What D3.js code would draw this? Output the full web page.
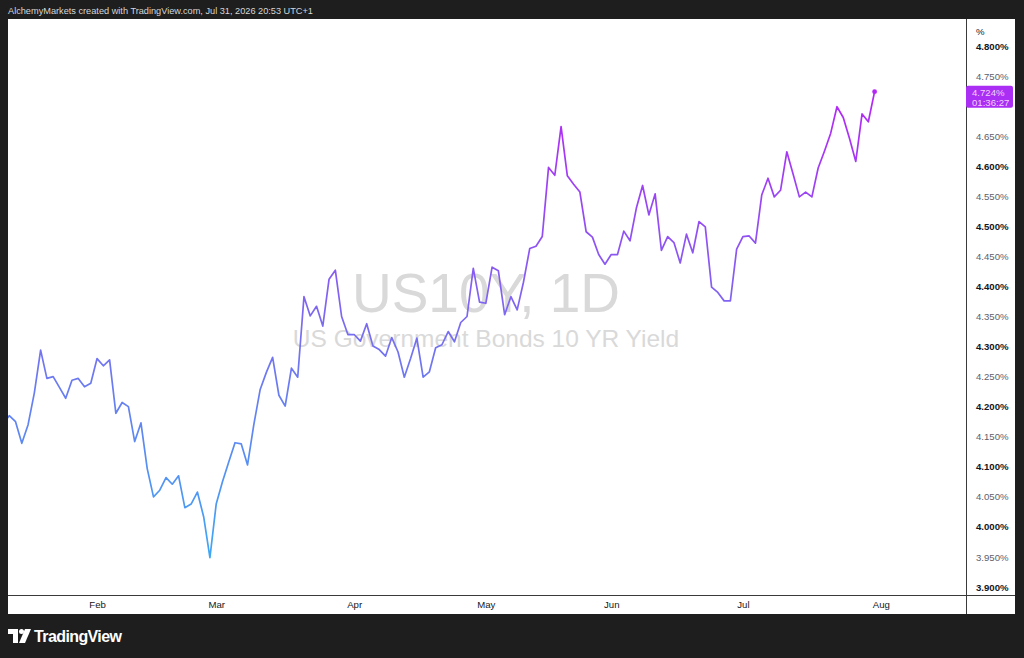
<!DOCTYPE html>
<html>
<head>
<meta charset="utf-8">
<script src="https://cdn.jsdelivr.net/npm/d3@7"></script>
<style>
  html, body { margin: 0; padding: 0; background: #1e1e1e; }
  svg { display: block; }
</style>
</head>
<body>
<svg id="chart" width="1024" height="658"></svg>
<script>
// US10Y daily closes, Jan 9 – Jul 31 2026 (bar index 0..139)
const values = [
  4.171, 4.185, 4.175, 4.139, 4.170, 4.223, 4.294, 4.247, 4.250, 4.232,
  4.214, 4.244, 4.247, 4.233, 4.239, 4.280, 4.268, 4.278, 4.189, 4.207,
  4.200, 4.142, 4.173, 4.097, 4.050, 4.061, 4.082, 4.071, 4.085, 4.032,
  4.038, 4.058, 4.017, 3.949, 4.038, 4.075, 4.108, 4.140, 4.138, 4.103,
  4.170, 4.228, 4.257, 4.282, 4.219, 4.201, 4.264, 4.249, 4.383, 4.351,
  4.367, 4.334, 4.412, 4.427, 4.350, 4.320, 4.320, 4.309, 4.338, 4.301,
  4.295, 4.284, 4.315, 4.291, 4.249, 4.280, 4.314, 4.249, 4.258, 4.298,
  4.303, 4.325, 4.308, 4.340, 4.350, 4.430, 4.374, 4.372, 4.432, 4.426,
  4.353, 4.383, 4.361, 4.407, 4.463, 4.467, 4.483, 4.598, 4.585, 4.666,
  4.584, 4.570, 4.557, 4.491, 4.482, 4.453, 4.437, 4.453, 4.453, 4.492,
  4.476, 4.530, 4.568, 4.519, 4.554, 4.460, 4.483, 4.473, 4.439, 4.487,
  4.456, 4.508, 4.499, 4.399, 4.390, 4.376, 4.376, 4.462, 4.483, 4.484,
  4.472, 4.552, 4.580, 4.549, 4.560, 4.624, 4.587, 4.549, 4.557, 4.549,
  4.597, 4.625, 4.655, 4.699, 4.681, 4.646, 4.608, 4.687, 4.674, 4.724
];
const monthLabels = ["Feb", "Mar", "Apr", "May", "Jun", "Jul", "Aug"];
const monthIdx = [15, 34, 56, 77, 97, 118, 140];
const priceTicks = [3.90, 3.95, 4.00, 4.05, 4.10, 4.15, 4.20, 4.25, 4.30, 4.35,
                    4.40, 4.45, 4.50, 4.55, 4.60, 4.65, 4.70, 4.75, 4.80];
const lastLabel = "4.724%";
const countdown = "01:36:27";
const headerText = "AlchemyMarkets created with TradingView.com, Jul 31, 2026 20:53 UTC+1";
const symbolText = "US10Y, 1D";
const descText = "US Government Bonds 10 YR Yield";

const svg = d3.select("#chart");
const W = 1024, H = 658;
const panel = { left: 8, top: 19, right: 1015, bottom: 614 };
const plot = { left: 8, top: 19, right: 966, bottom: 595 };

const x = d3.scaleLinear().domain([0, 139]).range([3.0, 874.6]);
const y = d3.scaleLinear().domain([3.9, 4.8]).range([587, 46]);

// background
svg.append("rect").attr("width", W).attr("height", H).attr("fill", "#1e1e1e");
svg.append("rect")
  .attr("x", panel.left).attr("y", panel.top)
  .attr("width", panel.right - panel.left).attr("height", panel.bottom - panel.top)
  .attr("fill", "#ffffff");

// header
svg.append("text").attr("x", 8).attr("y", 13.5)
  .attr("font-family", "Liberation Sans, Arial, sans-serif")
  .attr("font-size", 9.2).attr("fill", "#d6d6d6").text(headerText);

// watermark
const cx = (plot.left + plot.right) / 2 - 1;
svg.append("text").attr("x", cx).attr("y", 312).attr("text-anchor", "middle")
  .attr("font-family", "Liberation Sans, Arial, sans-serif")
  .attr("font-size", 55).attr("fill", "#d9d9d9").text(symbolText);
svg.append("text").attr("x", cx).attr("y", 347).attr("text-anchor", "middle")
  .attr("font-family", "Liberation Sans, Arial, sans-serif")
  .attr("font-size", 24.5).attr("fill", "#d9d9d9").text(descText);

// gradient by value
const defs = svg.append("defs");
const grad = defs.append("linearGradient").attr("id", "lineGrad")
  .attr("gradientUnits", "userSpaceOnUse")
  .attr("x1", 0).attr("x2", 0).attr("y1", y(3.95)).attr("y2", y(4.72));
grad.append("stop").attr("offset", "0%").attr("stop-color", "#3fa7f4");
grad.append("stop").attr("offset", "45%").attr("stop-color", "#7472f0");
grad.append("stop").attr("offset", "100%").attr("stop-color", "#b526f6");

defs.append("clipPath").attr("id", "plotClip").append("rect")
  .attr("x", plot.left).attr("y", plot.top)
  .attr("width", plot.right - plot.left).attr("height", plot.bottom - plot.top);

const line = d3.line().x((d, i) => x(i)).y(d => y(d));
svg.append("path").datum(values)
  .attr("clip-path", "url(#plotClip)")
  .attr("d", line)
  .attr("fill", "none")
  .attr("stroke", "url(#lineGrad)")
  .attr("stroke-width", 1.7)
  .attr("stroke-linejoin", "round");

const li = values.length - 1;
const ly = y(values[li]);
svg.append("circle").attr("cx", x(li)).attr("cy", ly).attr("r", 2.4)
  .attr("fill", "#b526f6");

// frame lines
svg.append("line").attr("x1", plot.right + 0.5).attr("x2", plot.right + 0.5)
  .attr("y1", panel.top).attr("y2", panel.bottom)
  .attr("stroke", "#3a3a3a").attr("stroke-width", 1);
svg.append("line").attr("x1", panel.left).attr("x2", panel.right)
  .attr("y1", plot.bottom + 0.5).attr("y2", plot.bottom + 0.5)
  .attr("stroke", "#3a3a3a").attr("stroke-width", 1);

// price axis (labels hidden where the last-value badge covers them)
const boxTop = ly - 6, boxBottom = ly + 16;
const shownTicks = priceTicks.filter(t => y(t) + 4 < boxTop || y(t) - 4 > boxBottom);
const yAxis = d3.axisRight(y).tickValues(shownTicks).tickSize(0).tickPadding(0)
  .tickFormat(d => d.toFixed(3) + "%");
const gy = svg.append("g").attr("transform", `translate(${plot.right + 10},0)`).call(yAxis);
gy.select(".domain").remove();
gy.selectAll("text")
  .attr("font-family", "Liberation Sans, Arial, sans-serif")
  .attr("font-size", 9.6)
  .attr("fill", d => (Math.round(d * 100) % 10 === 0) ? "#131722" : "#5d606b")
  .attr("font-weight", d => (Math.round(d * 100) % 10 === 0) ? "bold" : "normal");
svg.append("text").attr("x", plot.right + 10).attr("y", 35)
  .attr("font-family", "Liberation Sans, Arial, sans-serif")
  .attr("font-size", 9.6).attr("fill", "#131722").text("%");

// last value label
svg.append("rect").attr("x", plot.right).attr("y", boxTop).attr("width", 47).attr("height", boxBottom - boxTop)
  .attr("rx", 2).attr("fill", "#aa2ef3");
svg.append("text").attr("x", plot.right + 6).attr("y", ly + 4)
  .attr("font-family", "Liberation Sans, Arial, sans-serif")
  .attr("font-size", 9.6).attr("fill", "#f0d2ff").text(lastLabel);
svg.append("text").attr("x", plot.right + 6).attr("y", ly + 14)
  .attr("font-family", "Liberation Sans, Arial, sans-serif")
  .attr("font-size", 9.6).attr("fill", "#f0d2ff").text(countdown);

// time axis
const xAxis = d3.axisBottom(x).tickValues(monthIdx).tickSize(0).tickPadding(0)
  .tickFormat((d, i) => monthLabels[i]);
const gx = svg.append("g").attr("transform", `translate(0,${plot.bottom + 6})`).call(xAxis);
gx.select(".domain").remove();
gx.selectAll("text")
  .attr("font-family", "Liberation Sans, Arial, sans-serif")
  .attr("font-size", 9.6).attr("fill", "#131722");

// TradingView logo
const logo = svg.append("g").attr("fill", "#ffffff");
logo.append("path").attr("d", "M8 629 H18 V643 H13 V634 H8 Z");
logo.append("circle").attr("cx", 21.5).attr("cy", 631.5).attr("r", 2.5);
logo.append("path").attr("d", "M25 629 H31 L25 643 H19 Z");
svg.append("text").attr("x", 34).attr("y", 642)
  .attr("font-family", "Liberation Sans, Arial, sans-serif")
  .attr("font-size", 16).attr("font-weight", "bold").attr("fill", "#ffffff")
  .attr("letter-spacing", -0.6).text("TradingView");
</script>
</body>
</html>
